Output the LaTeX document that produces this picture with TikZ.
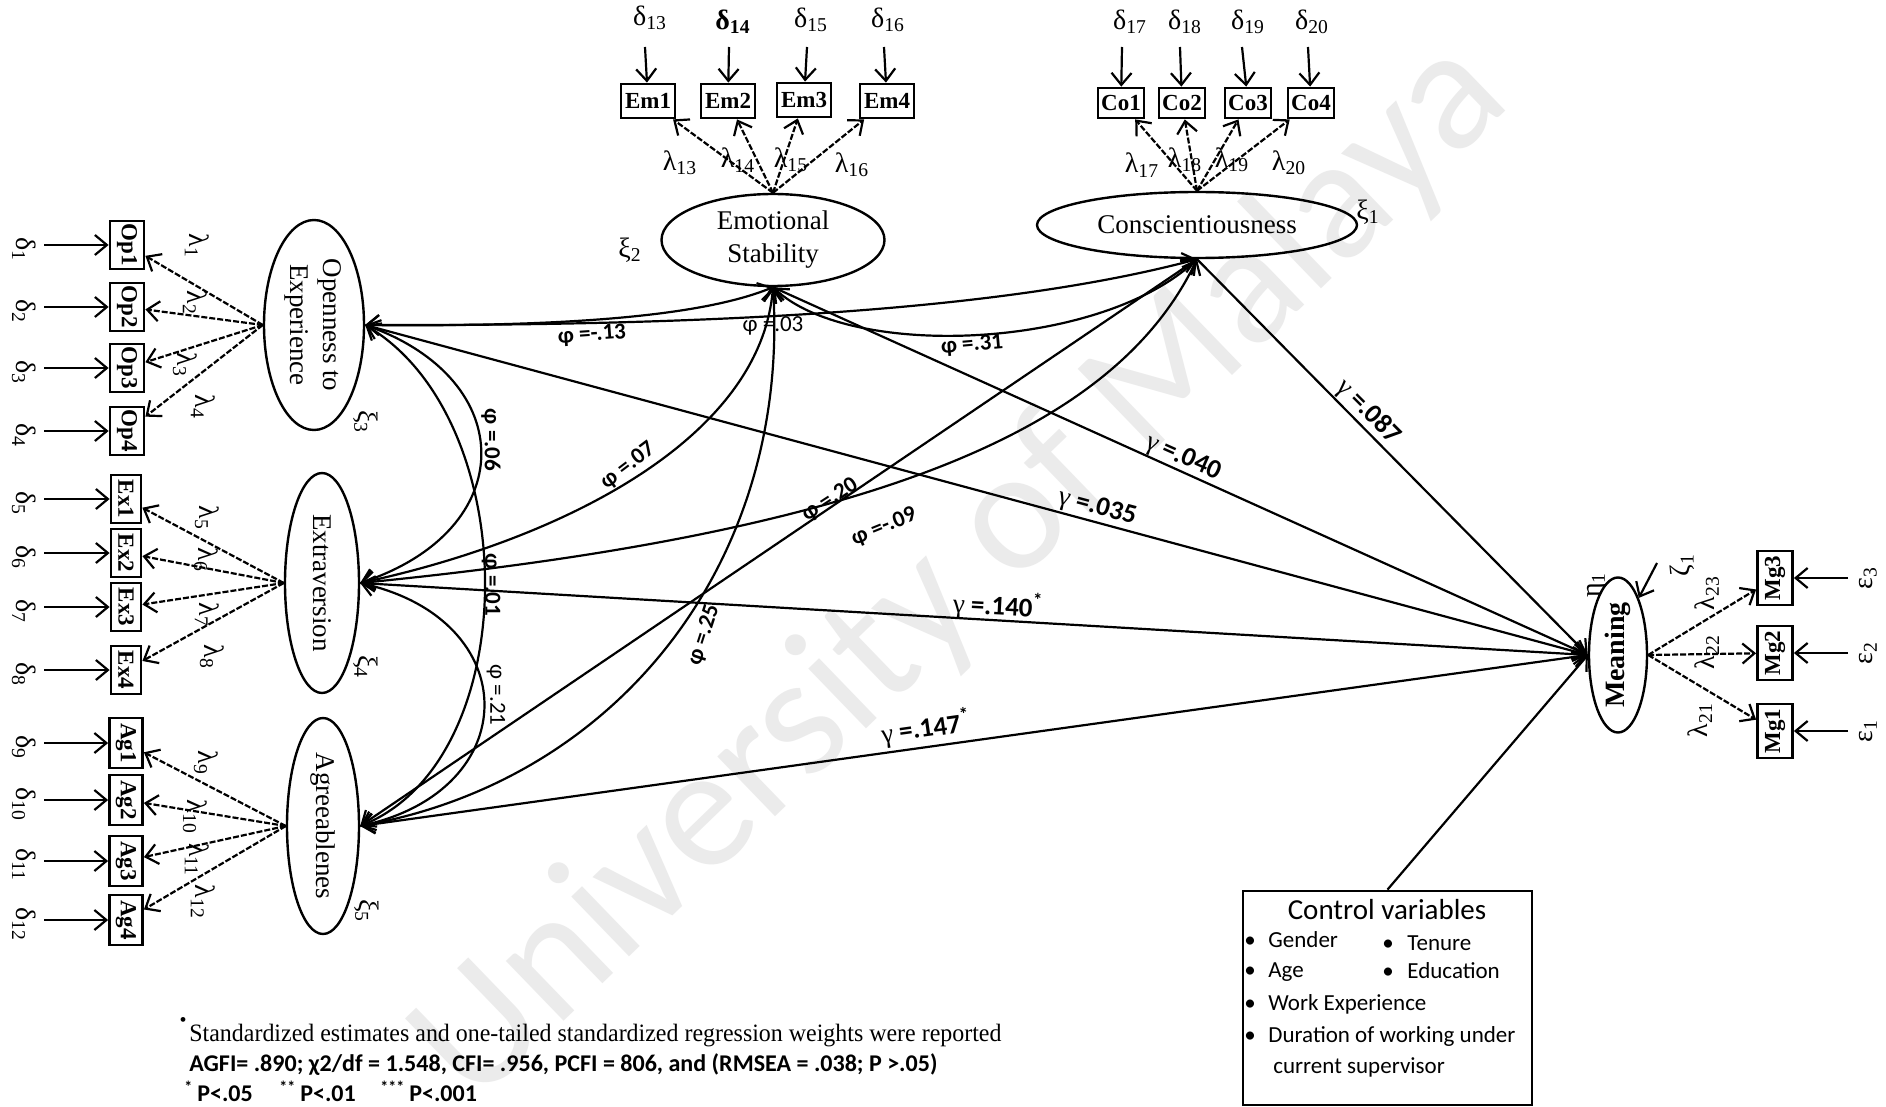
\documentclass[tikz,border=0pt]{standalone}
\usepackage{fontspec}
\setmainfont{Liberation Serif}
\newfontfamily\calib{Carlito}
\usetikzlibrary{shapes.geometric,arrows.meta}
\begin{document}
\begin{tikzpicture}[x=0.5pt,y=-0.5pt,
 lat/.style={ellipse,draw,line width=1.2pt,inner sep=0pt,font=\fontsize{13.5}{16.5}\selectfont},
 obs/.style={rectangle,draw,line width=1.4pt,inner sep=0pt,font=\bfseries\fontsize{11.5}{12}\selectfont},
 lbox/.style={obs,minimum width=17pt,minimum height=24pt},
 xbox/.style={obs,minimum width=15pt,minimum height=24pt},
 abox/.style={obs,minimum width=16.5pt,minimum height=25pt},
 ebox/.style={obs,minimum width=27pt,minimum height=17pt},
 cbox/.style={obs,minimum width=23pt,minimum height=15pt},
 mbox/.style={obs,minimum width=17.5pt,minimum height=27pt},
 lbl/.style={inner sep=0.5pt,font=\fontsize{14}{15}\selectfont},
 coef/.style={inner sep=1pt,font=\calib\bfseries\fontsize{11.5}{12}\selectfont},
 coefr/.style={inner sep=1pt,font=\calib\fontsize{11.5}{12}\selectfont},
 gam/.style={inner sep=1pt,font=\calib\bfseries\fontsize{13.5}{14}\selectfont},
 arr/.style={-{Straight Barb[length=6pt,width=10pt]},line width=1.1pt},
 load/.style={arr,dash pattern=on 3pt off 1pt},
 cov/.style={{Straight Barb[length=6pt,width=10pt]}-{Straight Barb[length=6pt,width=10pt]},line width=1.1pt},
 ctext/.style={anchor=west,inner sep=0pt,text height=8pt,text depth=2.5pt,font=\calib\fontsize{11.5}{13}\selectfont},
]
\useasboundingbox (0,0) rectangle (1886,1107);
\fill[white] (0,0) rectangle (1886,1107);
\node[rotate=44,text=black!8,font=\calib\fontsize{87}{90}\selectfont] (wm) at (962,572) {University of Malaya};

% latent variables
\node[lat,minimum width=50pt,minimum height=105pt] (O) at (314,325) {\rotatebox{-90}{\begin{tabular}{@{}c@{}}Openness to\\Experience\end{tabular}}};
\node[lat,minimum width=37pt,minimum height=110pt] (E) at (322,583) {\rotatebox{-90}{Extraversion}};
\node[lat,minimum width=36pt,minimum height=108pt] (A) at (323,826) {\rotatebox{-90}{Agreeablenes}};
\node[lat,minimum width=111.5pt,minimum height=46pt,align=center] (Em) at (773,240) {Emotional\\Stability};
\node[lat,minimum width=160pt,minimum height=33pt] (Co) at (1197,225) {Conscientiousness};
\node[lat,minimum width=29pt,minimum height=77.5pt,font=\bfseries\fontsize{14}{16}\selectfont] (M) at (1618,655) {\rotatebox{90}{Meaning}};

% indicators
\node[lbox] (Op1) at (127,245) {\rotatebox{-90}{Op1}};
\node[lbox] (Op2) at (127,307) {\rotatebox{-90}{Op2}};
\node[lbox] (Op3) at (127,368) {\rotatebox{-90}{Op3}};
\node[lbox] (Op4) at (127,431) {\rotatebox{-90}{Op4}};
\node[xbox] (Ex1) at (126,499) {\rotatebox{-90}{Ex1}};
\node[xbox] (Ex2) at (126,553) {\rotatebox{-90}{Ex2}};
\node[xbox] (Ex3) at (126,607) {\rotatebox{-90}{Ex3}};
\node[xbox] (Ex4) at (126,670) {\rotatebox{-90}{Ex4}};
\node[abox] (Ag1) at (126,743) {\rotatebox{-90}{Ag1}};
\node[abox] (Ag2) at (126,800) {\rotatebox{-90}{Ag2}};
\node[abox] (Ag3) at (126,861) {\rotatebox{-90}{Ag3}};
\node[abox] (Ag4) at (126,920) {\rotatebox{-90}{Ag4}};
\node[ebox] (Em1) at (648,101) {Em1};
\node[ebox] (Em2) at (728,101) {Em2};
\node[ebox] (Em3) at (804,100) {Em3};
\node[ebox] (Em4) at (887,101) {Em4};
\node[cbox] (Co1) at (1121,103) {Co1};
\node[cbox] (Co2) at (1182,103) {Co2};
\node[cbox] (Co3) at (1248,103) {Co3};
\node[cbox] (Co4) at (1311,103) {Co4};
\node[mbox] (Mg3) at (1775,578) {\rotatebox{90}{Mg3}};
\node[mbox] (Mg2) at (1775,653) {\rotatebox{90}{Mg2}};
\node[mbox] (Mg1) at (1775,731) {\rotatebox{90}{Mg1}};

% error terms, left
\foreach \i/\y/\b in {1/245/Op1,2/307/Op2,3/368/Op3,4/431/Op4,5/499/Ex1,6/553/Ex2,7/607/Ex3,8/670/Ex4,9/743/Ag1,10/800/Ag2,11/861/Ag3,12/920/Ag4}{
  \node[lbl,rotate=-90] (d\i) at (24,\y+4) {δ\textsubscript{\i}};
  \coordinate (d\i s) at (44,\y);
  \draw[arr] (d\i s) -- (\b);
}
% error terms, top
\node[lbl] (d13) at (650,18) {δ\textsubscript{13}};
\node[lbl,font=\bfseries\fontsize{14}{15}\selectfont] (d14) at (733,22) {δ\textsubscript{14}};
\node[lbl] (d15) at (811,20) {δ\textsubscript{15}};
\node[lbl] (d16) at (888,20) {δ\textsubscript{16}};
\node[lbl] (d17) at (1130,22) {δ\textsubscript{17}};
\node[lbl] (d18) at (1185,22) {δ\textsubscript{18}};
\node[lbl] (d19) at (1248,22) {δ\textsubscript{19}};
\node[lbl] (d20) at (1312,22) {δ\textsubscript{20}};
\foreach \x/\b in {645/Em1,729/Em2,807/Em3,884/Em4,1122/Co1,1180/Co2,1242/Co3,1308/Co4}{
  \coordinate (t\b) at (\x,47);
  \draw[arr] (t\b) -- (\b);
}
% error terms, right
\foreach \i/\y in {3/578,2/653,1/731}{
  \node[lbl,rotate=90] (e\i) at (1868,\y) {ε\textsubscript{\i}};
  \coordinate (e\i s) at (1848,\y);
  \draw[arr] (e\i s) -- (Mg\i);
}
% disturbance
\node[lbl,rotate=90] (zeta) at (1682,565) {ζ\textsubscript{1}};
\coordinate (zs) at (1657,563);
\draw[arr] (zs) -- (M.70);
\node[lbl,rotate=90] (eta) at (1597,585) {η\textsubscript{1}};

% latent labels
\node[lbl,rotate=-90] (x3) at (366,422) {ξ\textsubscript{3}};
\node[lbl,rotate=-90] (x4) at (366,667) {ξ\textsubscript{4}};
\node[lbl,rotate=-90] (x5) at (367,911) {ξ\textsubscript{5}};
\node[lbl] (x2) at (630,250) {ξ\textsubscript{2}};
\node[lbl] (x1) at (1368,212) {ξ\textsubscript{1}};

% loadings
\foreach \b in {Op1,Op2,Op3,Op4} \draw[load] (O.west) -- (\b);
\foreach \b in {Ex1,Ex2,Ex3,Ex4} \draw[load] (E.west) -- (\b);
\foreach \b in {Ag1,Ag2,Ag3,Ag4} \draw[load] (A.west) -- (\b);
\foreach \b in {Em1,Em2,Em3,Em4} \draw[load] (Em.north) -- (\b);
\foreach \b in {Co1,Co2,Co3,Co4} \draw[load] (Co.north) -- (\b);
\foreach \b in {Mg1,Mg2,Mg3} \draw[load] (M.east) -- (\b);

% loading labels
\node[lbl,rotate=-90] (l1) at (197,246) {λ\textsubscript{1}};
\node[lbl,rotate=-90] (l2) at (195,303) {λ\textsubscript{2}};
\node[lbl,rotate=-90] (l3) at (185,365) {λ\textsubscript{3}};
\node[lbl,rotate=-90] (l4) at (203,407) {λ\textsubscript{4}};
\node[lbl,rotate=-90] (l5) at (207,518) {λ\textsubscript{5}};
\node[lbl,rotate=-90] (l6) at (206,560) {λ\textsubscript{6}};
\node[lbl,rotate=-90] (l7) at (207,615) {λ\textsubscript{7}};
\node[lbl,rotate=-90] (l8) at (212,657) {λ\textsubscript{8}};
\node[lbl,rotate=-90] (l9) at (206,763) {λ\textsubscript{9}};
\node[lbl,rotate=-90] (l10) at (195,817) {λ\textsubscript{10}};
\node[lbl,rotate=-90] (l11) at (197,860) {λ\textsubscript{11}};
\node[lbl,rotate=-90] (l12) at (203,902) {λ\textsubscript{12}};
\node[lbl] (l13) at (680,163) {λ\textsubscript{13}};
\node[lbl] (l14) at (738,160) {λ\textsubscript{14}};
\node[lbl] (l15) at (791,160) {λ\textsubscript{15}};
\node[lbl] (l16) at (852,165) {λ\textsubscript{16}};
\node[lbl] (l17) at (1142,165) {λ\textsubscript{17}};
\node[lbl] (l18) at (1185,160) {λ\textsubscript{18}};
\node[lbl] (l19) at (1232,160) {λ\textsubscript{19}};
\node[lbl] (l20) at (1289,163) {λ\textsubscript{20}};
\node[lbl,rotate=90] (l23) at (1707,593) {λ\textsubscript{23}};
\node[lbl,rotate=90] (l22) at (1707,652) {λ\textsubscript{22}};
\node[lbl,rotate=90] (l21) at (1700,720) {λ\textsubscript{21}};

% covariances
\draw[cov] (O.east) .. controls (560,327) and (700,317) .. (Em.south);
\draw[cov] (O.east) .. controls (700,326) and (1000,312) .. (Co.south);
\draw[cov] (Em.south) .. controls (850,360) and (1100,350) .. (Co.south);
\draw[cov] (O.east) .. controls (520,380) and (520,530) .. (E.east);
\draw[cov] (O.east) .. controls (525,420) and (525,760) .. (A.east);
\draw[cov] (E.east) .. controls (525,620) and (525,790) .. (A.east);
\draw[cov] (E.east) .. controls (560,540) and (760,440) .. (Em.south);
\draw[cov] (E.east) .. controls (900,530) and (1120,420) .. (Co.south);
\draw[cov] (A.east) .. controls (620,780) and (790,560) .. (Em.south);
\draw[cov] (A.east) -- (Co.south);

% structural paths
\draw[arr] (Co.south) -- (M.west);
\draw[arr] (Em.south) -- (M.west);
\draw[arr] (O.east) -- (M.west);
\draw[arr] (E.east) -- (M.west);
\draw[arr] (A.east) -- (M.west);

% coefficient labels
\node[coef,rotate=4] (p1) at (592,335) {φ =-.13};
\node[coefr] (p2) at (773,326) {φ =.03};
\node[coef,rotate=5] (p3) at (972,345) {φ =.31};
\node[coef,rotate=-90] (p4) at (491,440) {φ =.06};
\node[coef,rotate=-90] (p5) at (491,585) {φ =.01};
\node[coefr,rotate=-90] (p6) at (496,695) {φ =.21};
\node[coef,rotate=37] (p7) at (628,466) {φ =.07};
\node[coef,rotate=33] (p8) at (830,500) {φ =.20};
\node[coef,rotate=22] (p9) at (884,527) {φ =-.09};
\node[coef,rotate=72] (p10) at (704,635) {φ =.25};
\node[gam,rotate=-45] (g1) at (1368,412) {{\rmfamily\mdseries γ} =.087};
\node[gam,rotate=-24] (g2) at (1183,458) {{\rmfamily\mdseries γ} =.040};
\node[gam,rotate=-15] (g3) at (1097,508) {{\rmfamily\mdseries γ} =.035};
\node[gam,rotate=-3] (g4) at (998,606) {{\rmfamily\mdseries γ} =.140\textsuperscript{*}};
\node[gam,rotate=8] (g5) at (926,728) {{\rmfamily\mdseries γ} =.147\textsuperscript{*}};

% control variables
\node[draw,line width=1.4pt,minimum width=144.5pt,minimum height=107pt,inner sep=0pt] (ctrl) at (1387.5,998) {};
\draw[arr] (ctrl.north) -- (M.west);
\node[inner sep=0pt,font=\calib\fontsize{14.5}{16}\selectfont] (ctitle) at (1387,910) {Control variables};
\foreach \x/\y in {1250/942,1250/972,1250/1005,1250/1037,1388/945,1388/973}
  \node[inner sep=0pt,font=\calib\fontsize{11.5}{13}\selectfont] at (\x,\y) {•};
\node[ctext] (c1) at (1268,942) {Gender};
\node[ctext] (c2) at (1268,972) {Age};
\node[ctext] (c3) at (1268,1005) {Work Experience};
\node[ctext] (c4) at (1268,1037) {Duration of working under};
\node[ctext] (c5) at (1273,1068) {current supervisor};
\node[ctext] (c6) at (1407,945) {Tenure};
\node[ctext] (c7) at (1407,973) {Education};

% footnote
\node[inner sep=0pt,font=\fontsize{10}{10}\selectfont] (bul) at (183,1022) {•};
\node[anchor=west,inner sep=0pt,font=\fontsize{12.5}{14}\selectfont] (fn1) at (189,1036) {\resizebox{406pt}{\height}{Standardized estimates and one-tailed standardized regression weights were reported}};
\node[anchor=west,inner sep=0pt,font=\calib\bfseries\fontsize{12}{14}\selectfont] (fn2) at (189,1065) {\resizebox{374pt}{\height}{AGFI= .890; χ2/df = 1.548, CFI= .956, PCFI = 806, and (RMSEA = .038; P >.05)}};
\node[anchor=west,inner sep=0pt,font=\calib\bfseries\fontsize{12}{14}\selectfont] (fn3a) at (184,1091) {\textsuperscript{*}\,P<.05};
\node[anchor=west,inner sep=0pt,font=\calib\bfseries\fontsize{12}{14}\selectfont] (fn3b) at (279,1091) {\textsuperscript{**}\,P<.01};
\node[anchor=west,inner sep=0pt,font=\calib\bfseries\fontsize{12}{14}\selectfont] (fn3c) at (380,1091) {\textsuperscript{***}\,P<.001};
\end{tikzpicture}
\end{document}
